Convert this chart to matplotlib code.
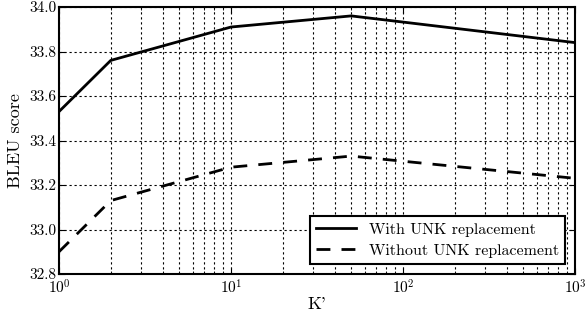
import matplotlib
matplotlib.use('Agg')
import matplotlib.pyplot as plt

# K' values and BLEU scores
k_values = [1, 2, 10, 50, 1000]
bleu_with_unk = [33.53, 33.76, 33.91, 33.96, 33.84]
bleu_without_unk = [32.90, 33.13, 33.28, 33.33, 33.23]

plt.rcParams['font.family'] = 'cmr10'
plt.rcParams['mathtext.fontset'] = 'cm'
plt.rcParams['axes.formatter.use_mathtext'] = True
plt.rcParams['axes.unicode_minus'] = False

fig = plt.figure(figsize=(5.88, 3.14), dpi=100)
ax = fig.add_axes([59 / 588, 1 - 274 / 314, (575 - 59) / 588, (274 - 7) / 314])

ax.plot(k_values, bleu_with_unk, color='black', linestyle='-', linewidth=2, label='With UNK replacement')
ax.plot(k_values, bleu_without_unk, color='black', linestyle='--', linewidth=2, dashes=(5, 4),
        label='Without UNK replacement')

ax.set_xscale('log')
ax.set_xlim(1, 1000)
ax.set_ylim(32.8, 34.0)
ax.set_yticks([32.8, 33.0, 33.2, 33.4, 33.6, 33.8, 34.0])
ax.set_yticklabels(['32.8', '33.0', '33.2', '33.4', '33.6', '33.8', '34.0'])

ax.grid(True, which='both', axis='x', color='black', linestyle=(0, (2, 2.5)), linewidth=0.8)
ax.grid(True, which='major', axis='y', color='black', linestyle=(0, (2, 2.5)), linewidth=0.8)

ax.tick_params(which='both', direction='in', top=True, right=True, labelsize=11)
ax.tick_params(axis='y', pad=2)
ax.tick_params(axis='x', pad=3.5)
ax.tick_params(which='major', length=4)
ax.tick_params(which='minor', length=2)
for s in ax.spines.values():
    s.set_linewidth(1.5)

ax.set_xlabel("K'", fontsize=13, labelpad=0)
ax.set_ylabel('BLEU score', fontsize=13, labelpad=4)

leg = ax.legend(loc='lower right', fontsize=11.5, fancybox=False, framealpha=1,
                edgecolor='black', handlelength=2.5, borderaxespad=0.6, labelspacing=0.45)
leg.get_frame().set_linewidth(1.5)

fig.savefig('out.png', dpi=100)
